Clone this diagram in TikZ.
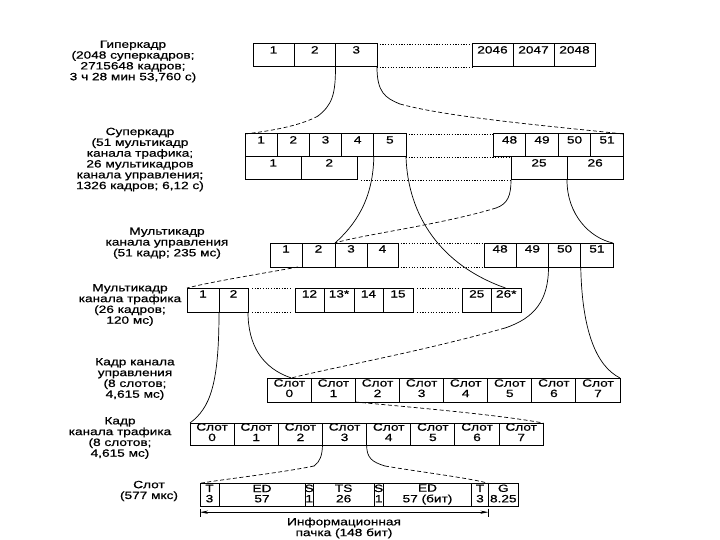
\documentclass[tikz,border=0pt]{standalone}
\usepackage{fontspec}
\setmainfont{Liberation Sans}[FakeStretch=1.3,FakeBold=0.6]
\usetikzlibrary{arrows.meta,calc}
\newcommand\cellfont{\fontsize{10.5}{11}\selectfont}
\newcommand\lblfont{\fontsize{10.5}{10.8}\selectfont}
\newcommand{\gcell}[7][9.5]{\node[cell,minimum width={(#4-#3)*1pt},minimum height={#6*1pt},text height={#1*1pt},text depth={(#6-#1)*1pt},anchor=north west] (#2) at (#3,#5) {\makebox[0pt]{#7}};}
\begin{document}
\begin{tikzpicture}[x=1pt,y=-1pt,
  cell/.style={draw,line width=1pt,inner xsep=0pt,inner ysep=0pt,outer sep=0pt,font=\cellfont},
  lbl/.style={align=center,font=\lblfont,inner sep=0pt},
  conn/.style={line width=0.7pt},
  dsh/.style={line width=0.7pt,dash pattern=on 4pt off 2.5pt},
  dotline/.style={line width=0.9pt,dash pattern=on 1.2pt off 1.5pt}]
\fill[white] (0,0) rectangle (720,540);
\useasboundingbox (0,0) rectangle (720,540);

% ---------- labels ----------
\node[lbl] (lhyper) at (133,61.5) {Гиперкадр\\(2048 суперкадров;\\2715648 кадров;\\3 ч 28 мин 53,760 с)};
\node[lbl] (lsuper) at (140,159.5) {Суперкадр\\(51 мультикадр\\канала трафика;\\26 мультикадров\\канала управления;\\1326 кадров; 6,12 с)};
\node[lbl] (lcmf) at (167,243) {Мультикадр\\канала управления\\(51 кадр; 235 мс)};
\node[lbl] (ltmf) at (130,305) {Мультикадр\\канала трафика\\(26 кадров;\\120 мс)};
\node[lbl] (lcf) at (135,379) {Кадр канала\\управления\\(8 слотов;\\4,615 мс)};
\node[lbl] (ltf) at (120,438) {Кадр\\канала трафика\\(8 слотов;\\4,615 мс)};
\node[lbl] (lslot) at (149,491) {Слот\\(577 мкс)};

% ---------- row 1: hyperframe ----------
\gcell{h1}{253}{294}{44}{23}{1}
\gcell{h2}{294}{335.5}{44}{23}{2}
\gcell{h3}{335.5}{377}{44}{23}{3}
\gcell{h2046}{472}{513}{44}{23}{2046}
\gcell{h2047}{513}{554}{44}{23}{2047}
\gcell{h2048}{554}{595}{44}{23}{2048}
\draw[dotline] (h3.north east) -- (h2046.north west);
\draw[dotline] (h3.south east) -- (h2046.south west);

% ---------- row 2: superframe ----------
\gcell{s1}{245}{277.2}{134}{23}{1}
\gcell{s2}{277.2}{309.4}{134}{23}{2}
\gcell{s3}{309.4}{341.6}{134}{23}{3}
\gcell{s4}{341.6}{373.8}{134}{23}{4}
\gcell{s5}{373.8}{406}{134}{23}{5}
\gcell{s48}{493.3}{525.8}{134}{23}{48}
\gcell{s49}{525.8}{558.3}{134}{23}{49}
\gcell{s50}{558.3}{590.8}{134}{23}{50}
\gcell{s51}{590.8}{623.3}{134}{23}{51}
\gcell{c1}{245}{301.5}{157}{23}{1}
\gcell{c2}{301.5}{357}{157}{23}{2}
\gcell{c25}{511}{567}{157}{23}{25}
\gcell{c26}{567}{623.3}{157}{23}{26}
\draw[dotline] (s5.north east) -- (s48.north west);
\draw[dotline] (s5.south east) -- (c25.north west);
\draw[dotline] ($(c2.south east)+(4,0)$) -- (c25.south west);

% ---------- row 3: control multiframe ----------
\gcell{m1}{270}{302}{243}{24}{1}
\gcell{m2}{302}{335}{243}{24}{2}
\gcell{m3}{335}{367}{243}{24}{3}
\gcell{m4}{367}{398}{243}{24}{4}
\gcell{m48}{484}{516.25}{243}{24}{48}
\gcell{m49}{516.25}{548.5}{243}{24}{49}
\gcell{m50}{548.5}{580.75}{243}{24}{50}
\gcell{m51}{580.75}{613}{243}{24}{51}
\draw[dotline] (m4.north east) -- (m48.north west);
\draw[dotline] (m4.south east) -- (m48.south west);

% ---------- row 4: traffic multiframe ----------
\gcell{t1}{187}{219}{288}{24}{1}
\gcell{t2}{219}{248}{288}{24}{2}
\gcell{t12}{295}{324}{288}{24}{12}
\gcell{t13}{324}{354}{288}{24}{13*}
\gcell{t14}{354}{383}{288}{24}{14}
\gcell{t15}{383}{413}{288}{24}{15}
\gcell{t25}{462}{491.5}{288}{24}{25}
\gcell{t26}{491.5}{521}{288}{24}{26*}
\draw[dotline] ($(t2.north east)+(4,0)$) -- ($(t12.north west)+(-4,0)$);
\draw[dotline] ($(t2.south east)+(4,0)$) -- ($(t12.south west)+(-4,0)$);
\draw[dotline] ($(t15.north east)+(4,0)$) -- ($(t25.north west)+(-4,0)$);
\draw[dotline] ($(t15.south east)+(4,0)$) -- ($(t25.south west)+(-4,0)$);

% ---------- row 5: control frame ----------
\foreach \i in {0,...,7}{
  \pgfmathsetmacro\xa{267.3+44.09*\i}
  \pgfmathsetmacro\xb{267.3+44.09*(\i+1)}
  \gcell[19]{k\i}{\xa}{\xb}{378}{24}{\shortstack{Слот\\\i}}
}
% ---------- row 6: traffic frame ----------
\foreach \i in {0,...,7}{
  \pgfmathsetmacro\xa{190+44.16*\i}
  \pgfmathsetmacro\xb{190+44.16*(\i+1)}
  \gcell[18]{f\i}{\xa}{\xb}{423}{22}{\shortstack{Слот\\\i}}
}
% ---------- row 7: slot ----------
\gcell[19]{r0}{200}{219}{483.3}{23.4}{\shortstack{T\\3}}
\gcell[19]{r1}{219}{305}{483.3}{23.4}{\shortstack{ED\\57}}
\gcell[19]{r2}{305}{313.3}{483.3}{23.4}{\shortstack{S\\1}}
\gcell[19]{r3}{313.3}{374}{483.3}{23.4}{\shortstack{TS\\26}}
\gcell[19]{r4}{374}{383.3}{483.3}{23.4}{\shortstack{S\\1}}
\gcell[19]{r5}{383.3}{471.7}{483.3}{23.4}{\shortstack{ED\\57 (бит)}}
\gcell[19]{r6}{471.7}{488.3}{483.3}{23.4}{\shortstack{T\\3}}
\gcell[19]{r7}{488.3}{518.3}{483.3}{23.4}{\shortstack{G\\8.25}}

% ---------- connectors ----------
% hyperframe -> superframe
\coordinate (a1) at (318,116);
\draw[conn] (h3.south west) .. controls (335.5,95) and (332,105) .. (a1);
\draw[dsh] (a1) .. controls (300,126) and (270,131) .. (s1.north west);
\coordinate (a2) at (400,104);
\draw[conn] (h3.south east) .. controls (377,92) and (385,98) .. (a2);
\draw[dsh] (a2) .. controls (450,118) and (570,128) .. (s51.north east);
% superframe -> control multiframe
\draw[conn] (s5.south west) .. controls (373,200) and (355,225) .. (m3.north west);
\coordinate (a3) at (496,208);
\draw[conn] (c25.south west) .. controls (511,195) and (508,204) .. (a3);
\draw[dsh] (a3) .. controls (440,225) and (360,235) .. (m3.north west);
\draw[conn] (c26.south west) .. controls (567,215) and (590,238) .. (m51.north east);
% superframe -> traffic multiframe
\coordinate (t26top) at ($(t26.north west)+(14,0)$);
\draw[conn] (s5.south east) .. controls (408,215) and (440,265) .. (t26top);
\draw[dsh] ($(m1.south east)+(-4,0)$) .. controls (260,274) and (215,281) .. (t1.north west);
% multiframes -> control frame
\coordinate (kx) at ($(k0.north west)+(24,0)$);
\coordinate (a4) at (505,328);
\draw[conn] (m50.south west) .. controls (548.5,300) and (535,318) .. (a4);
\draw[dsh] (a4) .. controls (420,352) and (330,368) .. (kx);
\draw[conn] (t2.south east) .. controls (248,345) and (262,368) .. (kx);
\draw[conn] (m51.south west) .. controls (582,330) and (596,366) .. (k7.north east);
% traffic multiframe -> traffic frame
\draw[conn] (t1.south east) .. controls (219,385) and (210,408) .. (f0.north west);
\draw[dsh] (k2.south west) .. controls (420,408) and (500,415) .. (f7.north east);
% traffic frame -> slot
\coordinate (a5) at (314,466);
\draw[conn] (f3.south west) .. controls (322.3,455) and (320,462) .. (a5);
\draw[dsh] (a5) .. controls (280,473) and (225,479) .. (r0.north west);
\coordinate (a6) at (385,466);
\draw[conn] (f4.south west) .. controls (366.7,458) and (372,462) .. (a6);
\draw[dsh] (a6) .. controls (420,472) and (470,478) .. (r6.north east);

% ---------- burst arrow ----------
\draw[line width=0.7pt] ($(r0.south west)+(0,2)$) -- ($(r0.south west)+(0,10)$);
\draw[line width=0.7pt] ($(r6.south east)+(0,2)$) -- ($(r6.south east)+(0,10)$);
\draw[line width=0.7pt,{Stealth[length=8pt,width=3.2pt]}-{Stealth[length=8pt,width=3.2pt]}] ($(r0.south west)+(0,5.5)$) -- ($(r6.south east)+(0,5.5)$);
\node[lbl] (lburst) at (344,528) {Информационная\\пачка (148 бит)};
\end{tikzpicture}
\end{document}
